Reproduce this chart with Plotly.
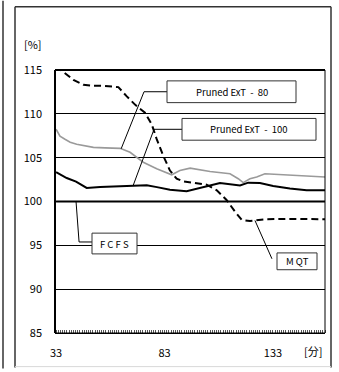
import numpy as np
import plotly.graph_objects as go

# ---- data ----
x_ext80 = [33, 34.8, 37.1, 39.5, 42.5, 46.4, 50.2, 55.6, 62.5, 67.1, 73.2, 79.4, 83.2, 86.3,
           90.1, 94.8, 104.0, 113.2, 117.0, 119.3, 122.4, 125.5, 129.3, 137.7, 147.0, 157]
y_ext80 = [108.24, 107.45, 107.1, 106.77, 106.54, 106.32, 106.17, 106.12, 106.06, 105.61, 104.48,
           103.73, 103.35, 103.05, 103.53, 103.81, 103.42, 103.16, 102.6, 102.15, 102.6, 102.79,
           103.16, 103.05, 102.9, 102.79]

x_ext100 = [33, 37.9, 42.2, 47.1, 53.3, 61.0, 68.6, 74.8, 79.5, 85.5, 93.2, 100.9, 108.6, 117.8,
            121.6, 127.0, 133.1, 140.8, 148.5, 157]
y_ext100 = [103.35, 102.68, 102.26, 101.55, 101.66, 101.73, 101.8, 101.84, 101.64, 101.34, 101.17,
            101.66, 102.11, 101.84, 102.15, 102.11, 101.78, 101.47, 101.28, 101.28]

x_mqt = [33, 36.4, 41.0, 45.6, 50.2, 54.8, 61.7, 65.6, 69.4, 74.0, 77.1, 79.4, 82.4, 85.5, 88.6,
         91.7, 96.3, 102.4, 107.1, 111.7, 115.5, 118.6, 122.4, 130.1, 140.8, 157]
y_mqt = [115.45, 114.8, 113.87, 113.31, 113.2, 113.2, 113.05, 111.99, 111.05, 110.12, 108.8, 107.11,
         105.23, 103.53, 102.6, 102.3, 102.11, 101.92, 101.28, 100.15, 98.84, 97.9, 97.78, 97.98,
         98.01, 97.98]

x_fcfs = [33, 157]
y_fcfs = [100, 100]

x_ticks = [33, 83, 133]
y_ticks = [85, 90, 95, 100, 105, 110, 115]

FONT = "Noto Sans CJK JP"

# plot area in pixels
L, R, T, B = 55, 325, 70, 336
W, H = 339, 372


def px(x):
    return (x - L) / (R - L)


def py(y):
    return (B - y) / (B - T)


fig = go.Figure()
fig.add_trace(go.Scatter(x=x_fcfs, y=y_fcfs, mode="lines", line=dict(color="black", width=2),
                         name="FCFS", showlegend=False))
fig.add_trace(go.Scatter(x=x_ext80, y=y_ext80, mode="lines", line=dict(color="#9a9a9a", width=1.6),
                         name="Pruned ExT - 80", showlegend=False))
fig.add_trace(go.Scatter(x=x_ext100, y=y_ext100, mode="lines", line=dict(color="black", width=2),
                         name="Pruned ExT - 100", showlegend=False))
fig.add_trace(go.Scatter(x=x_mqt, y=y_mqt, mode="lines",
                         line=dict(color="black", width=2, dash="7px,4px"),
                         name="MQT", showlegend=False))

shapes = []


def pline(x0, y0, x1, y1, color="#333", width=1.5):
    shapes.append(dict(type="line", xref="paper", yref="paper", x0=px(x0), x1=px(x1), y0=py(y0), y1=py(y1),
                       line=dict(color=color, width=width)))


# outer frames
pline(3, 0, 3, 372)
pline(15, 6, 15, 371)
pline(15, 6, 331, 6)
pline(331, 6, 331, 371)
pline(15, 370, 331, 370, color="#d8d8d8", width=1)

# plot frame
shapes.append(dict(type="rect", xref="paper", yref="paper", x0=0, x1=1, y0=0, y1=1,
                   line=dict(color="black", width=1), layer="above"))
shapes.append(dict(type="line", xref="paper", yref="paper", x0=0, x1=0, y0=0, y1=1,
                   line=dict(color="black", width=2), layer="above"))
shapes.append(dict(type="line", xref="paper", yref="paper", x0=0, x1=1, y0=1, y1=1,
                   line=dict(color="black", width=2), layer="above"))


def dx(p):
    return 33 + (p - 56) / 2.17


def dy(p):
    return 115 - (p - 70) / 8.87


def leader(points):
    path = "M " + " L ".join(f"{a},{b}" for a, b in points)
    shapes.append(dict(type="path", xref="x", yref="y", path=path,
                       line=dict(color="black", width=1), layer="above"))


# leader lines, ending on the series
t80 = 63.0
leader([(dx(167), dy(92)), (dx(144), dy(92)), (t80, float(np.interp(t80, x_ext80, y_ext80)))])
t100 = 68.5
leader([(dx(182), dy(130)), (dx(154), dy(130)), (t100, float(np.interp(t100, x_ext100, y_ext100)))])
tf = 42.2
leader([(dx(92), dy(244)), (dx(79), dy(244)), (tf, 100)])
tm = 124.7
leader([(dx(272), dy(261)), (tm, float(np.interp(tm, x_mqt, y_mqt)))])

annotations = []


def box(x0, x1, y0, y1, text):
    shapes.append(dict(type="rect", xref="paper", yref="paper", x0=px(x0), x1=px(x1), y0=py(y1), y1=py(y0),
                       line=dict(color="#333", width=1), fillcolor="white", layer="above"))
    annotations.append(dict(xref="paper", yref="paper", x=px((x0 + x1) / 2), y=py((y0 + y1) / 2),
                            text=text, showarrow=False, xanchor="center", yanchor="middle",
                            font=dict(family=FONT, size=9.5, color="black")))


box(167, 296, 81, 103, "Pruned ExT  -  80")
box(182, 316, 119, 141, "Pruned ExT  -  100")
box(92, 137, 235, 256, "F C F S")
box(277, 317, 255, 272, "M QT")

annotations.append(dict(xref="paper", yref="paper", x=px(33), y=py(44), text="[%]", showarrow=False,
                        xanchor="center", yanchor="middle", font=dict(family=FONT, size=11, color="black")))
annotations.append(dict(xref="paper", yref="paper", x=px(313), y=py(354), text="[分]", showarrow=False,
                        xanchor="center", yanchor="middle", font=dict(family=FONT, size=11, color="black")))

fig.update_layout(
    width=W, height=H,
    margin=dict(l=L, r=W - R, t=T, b=H - B, pad=0),
    paper_bgcolor="white", plot_bgcolor="white",
    shapes=shapes, annotations=annotations,
    font=dict(family=FONT, size=11, color="black"),
    showlegend=False,
)
fig.update_xaxes(range=[32.5, 157], tickmode="array", tickvals=x_ticks, ticktext=[str(v) for v in x_ticks],
                 showgrid=False, zeroline=False, showline=True, linecolor="black", linewidth=1,
                 ticks="", ticklabelstandoff=10,
                 minor=dict(tickmode="linear", tick0=33, dtick=1, ticks="inside", ticklen=3,
                            tickcolor="#555", tickwidth=1, showgrid=False))
fig.update_yaxes(range=[85, 115], tickmode="array", tickvals=y_ticks, ticktext=[str(v) for v in y_ticks],
                 showgrid=True, gridcolor="black", gridwidth=1, zeroline=False, showline=False,
                 ticks="", ticklabelstandoff=12)

fig.write_html("out.html")
